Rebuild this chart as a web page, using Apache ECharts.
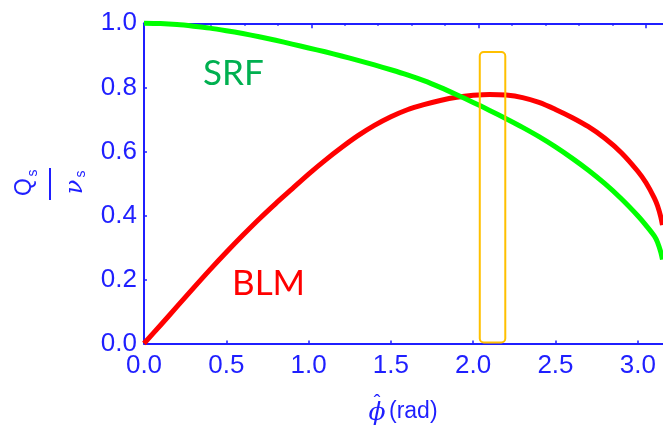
<!DOCTYPE html>
<html>
<head>
<meta charset="utf-8">
<script src="https://cdn.jsdelivr.net/npm/echarts@6/dist/echarts.min.js"></script>
<style>
  html, body { margin: 0; padding: 0; background: #ffffff; }
  #chart { width: 663px; height: 427px; }
</style>
</head>
<body>
<div id="chart"></div>
<script>
// Synchrotron tune ratio Q_s / nu_s versus phase (rad)
const phiGrid = [0.0, 0.1, 0.2, 0.3, 0.4, 0.5, 0.6, 0.7, 0.8, 0.9, 1.0, 1.1, 1.2, 1.3, 1.4, 1.5, 1.6, 1.7, 1.8, 1.9, 2.0, 2.1, 2.2, 2.3, 2.4, 2.5, 2.6, 2.7, 2.8, 2.9, 3.0, 3.05, 3.1, 3.12, 3.14, 3.15];
const qBLM = [0.000, 0.057, 0.115, 0.173, 0.230, 0.285, 0.338, 0.389, 0.437, 0.483, 0.529, 0.572, 0.612, 0.649, 0.681, 0.708, 0.730, 0.746, 0.759, 0.769, 0.775, 0.778, 0.776, 0.768, 0.753, 0.731, 0.706, 0.677, 0.641, 0.596, 0.538, 0.502, 0.455, 0.430, 0.395, 0.370];
const qSRF = [1.000, 0.999, 0.996, 0.991, 0.985, 0.977, 0.968, 0.958, 0.947, 0.935, 0.923, 0.911, 0.898, 0.884, 0.870, 0.855, 0.839, 0.821, 0.800, 0.777, 0.753, 0.728, 0.702, 0.675, 0.646, 0.614, 0.579, 0.541, 0.499, 0.452, 0.399, 0.369, 0.336, 0.316, 0.285, 0.262];

// highlighted phase window around the BLM maximum
const windowPhi = [2.04, 2.195];
const windowQ = [0.0, 0.91];

const xTickStep = 0.5;
const yTickStep = 0.2;

const AXIS_BLUE = '#1f1fff';
const TICK_FONT = '"Liberation Sans", Arial, sans-serif';

const zip = (a, b) => a.map((v, i) => [v, b[i]]);

const chart = echarts.init(document.getElementById('chart'), null, { renderer: 'canvas' });

const X_MAX = 3.2;
const TOP_SCALE = 164.6 / 167.3;

chart.setOption({
  animation: false,
  backgroundColor: '#ffffff',
  grid: { left: 144, top: 23.3, width: 526.7, height: 320.2, outerBoundsMode: 'none', containLabel: false },
  xAxis: [
    {
      type: 'value', position: 'bottom', min: 0, max: X_MAX, interval: xTickStep,
      axisLine: { show: true, lineStyle: { color: AXIS_BLUE, width: 2 } },
      axisTick: { show: true, inside: true, length: 3, lineStyle: { color: AXIS_BLUE, width: 1.5 } },
      axisLabel: {
        color: AXIS_BLUE, fontSize: 26, fontFamily: TICK_FONT, margin: 9,
        showMaxLabel: false, formatter: v => v.toFixed(1)
      },
      splitLine: { show: false }
    },
    {
      type: 'value', position: 'top', min: 0, max: X_MAX * TOP_SCALE, interval: 1,
      axisLine: { show: true, lineStyle: { color: AXIS_BLUE, width: 2 } },
      axisTick: { show: true, inside: true, length: 5, lineStyle: { color: AXIS_BLUE, width: 1.5 } },
      minorTick: { show: true, splitNumber: 5, length: 2.5, lineStyle: { color: AXIS_BLUE, width: 1.5 } },
      axisLabel: { show: false },
      splitLine: { show: false },
      minorSplitLine: { show: false }
    }
  ],
  yAxis: {
    type: 'value', min: 0, max: 1, interval: yTickStep,
    axisLine: { show: true, lineStyle: { color: AXIS_BLUE, width: 2 } },
    axisTick: { show: true, inside: true, length: 3, lineStyle: { color: AXIS_BLUE, width: 1.5 } },
    axisLabel: { color: AXIS_BLUE, fontSize: 26, fontFamily: TICK_FONT, margin: 7, formatter: v => v.toFixed(1) },
    splitLine: { show: false }
  },
  series: [
    {
      name: 'BLM', type: 'line', xAxisIndex: 0, data: zip(phiGrid, qBLM),
      showSymbol: false, smooth: 0.3, clip: false,
      lineStyle: { color: '#ff0000', width: 5, join: 'round', cap: 'butt' }, z: 3
    },
    {
      name: 'SRF', type: 'line', xAxisIndex: 0, data: zip(phiGrid, qSRF),
      showSymbol: false, smooth: 0.3, clip: false,
      lineStyle: { color: '#00ff00', width: 5, join: 'round', cap: 'butt' }, z: 4
    }
  ]
});

// window rectangle from data coordinates
const p0 = chart.convertToPixel({ xAxisIndex: 0, yAxisIndex: 0 }, [windowPhi[0], windowQ[1]]);
const p1 = chart.convertToPixel({ xAxisIndex: 0, yAxisIndex: 0 }, [windowPhi[1], windowQ[0]]);

const LABEL_FONT = 'Lato, "Open Sans", sans-serif';

chart.setOption({
  graphic: [
    {
      type: 'rect', z: 10,
      shape: { x: p0[0], y: p0[1], width: p1[0] - p0[0], height: p1[1] - p0[1] - 1, r: 4 },
      style: { fill: 'none', stroke: '#ffc000', lineWidth: 2 }
    },
    {
      type: 'text', z: 10, left: 203, top: 56,
      style: { text: 'SRF', fill: '#00b050', fontSize: 35, fontFamily: LABEL_FONT }
    },
    {
      type: 'text', z: 10, left: 232, top: 266,
      style: { text: 'BLM', fill: '#ff0000', fontSize: 35, fontFamily: LABEL_FONT }
    },
    {
      // horizontal axis title: phi-hat (rad)
      type: 'group', x: 400, y: 412,
      children: [
        { type: 'text', style: { text: '\u03D5', x: -23, y: 1, fontSize: 25, fontStyle: 'italic', fontFamily: '"DejaVu Serif", serif', fill: AXIS_BLUE, align: 'center', verticalAlign: 'middle' } },
        { type: 'text', style: { text: '\u02C6', x: -23, y: -9, fontSize: 20, fontFamily: TICK_FONT, fill: AXIS_BLUE, align: 'center', verticalAlign: 'middle' } },
        { type: 'text', style: { text: '(rad)', x: -11, y: 0, fontSize: 23, fontFamily: TICK_FONT, fill: AXIS_BLUE, align: 'left', verticalAlign: 'middle' } }
      ]
    },
    {
      // vertical axis title: Q_s over nu_s, turned a quarter turn
      type: 'group', x: 50, y: 184, rotation: Math.PI / 2,
      children: [
        { type: 'text', style: { text: 'Q', x: -3, y: -25, fontSize: 23, fontFamily: TICK_FONT, fill: AXIS_BLUE, align: 'center', verticalAlign: 'middle' } },
        { type: 'text', style: { text: 's', x: 11, y: -17, fontSize: 14, fontFamily: TICK_FONT, fill: AXIS_BLUE, align: 'center', verticalAlign: 'middle' } },
        { type: 'rect', shape: { x: -16, y: -1, width: 32, height: 2 }, style: { fill: AXIS_BLUE } },
        { type: 'text', style: { text: '\u03BD', x: -3, y: 26, fontSize: 24, fontStyle: 'italic', fontFamily: '"DejaVu Serif", serif', fill: AXIS_BLUE, align: 'center', verticalAlign: 'middle' } },
        { type: 'text', style: { text: 's', x: 10, y: 31, fontSize: 14, fontFamily: TICK_FONT, fill: AXIS_BLUE, align: 'center', verticalAlign: 'middle' } }
      ]
    }
  ]
});
</script>
</body>
</html>
